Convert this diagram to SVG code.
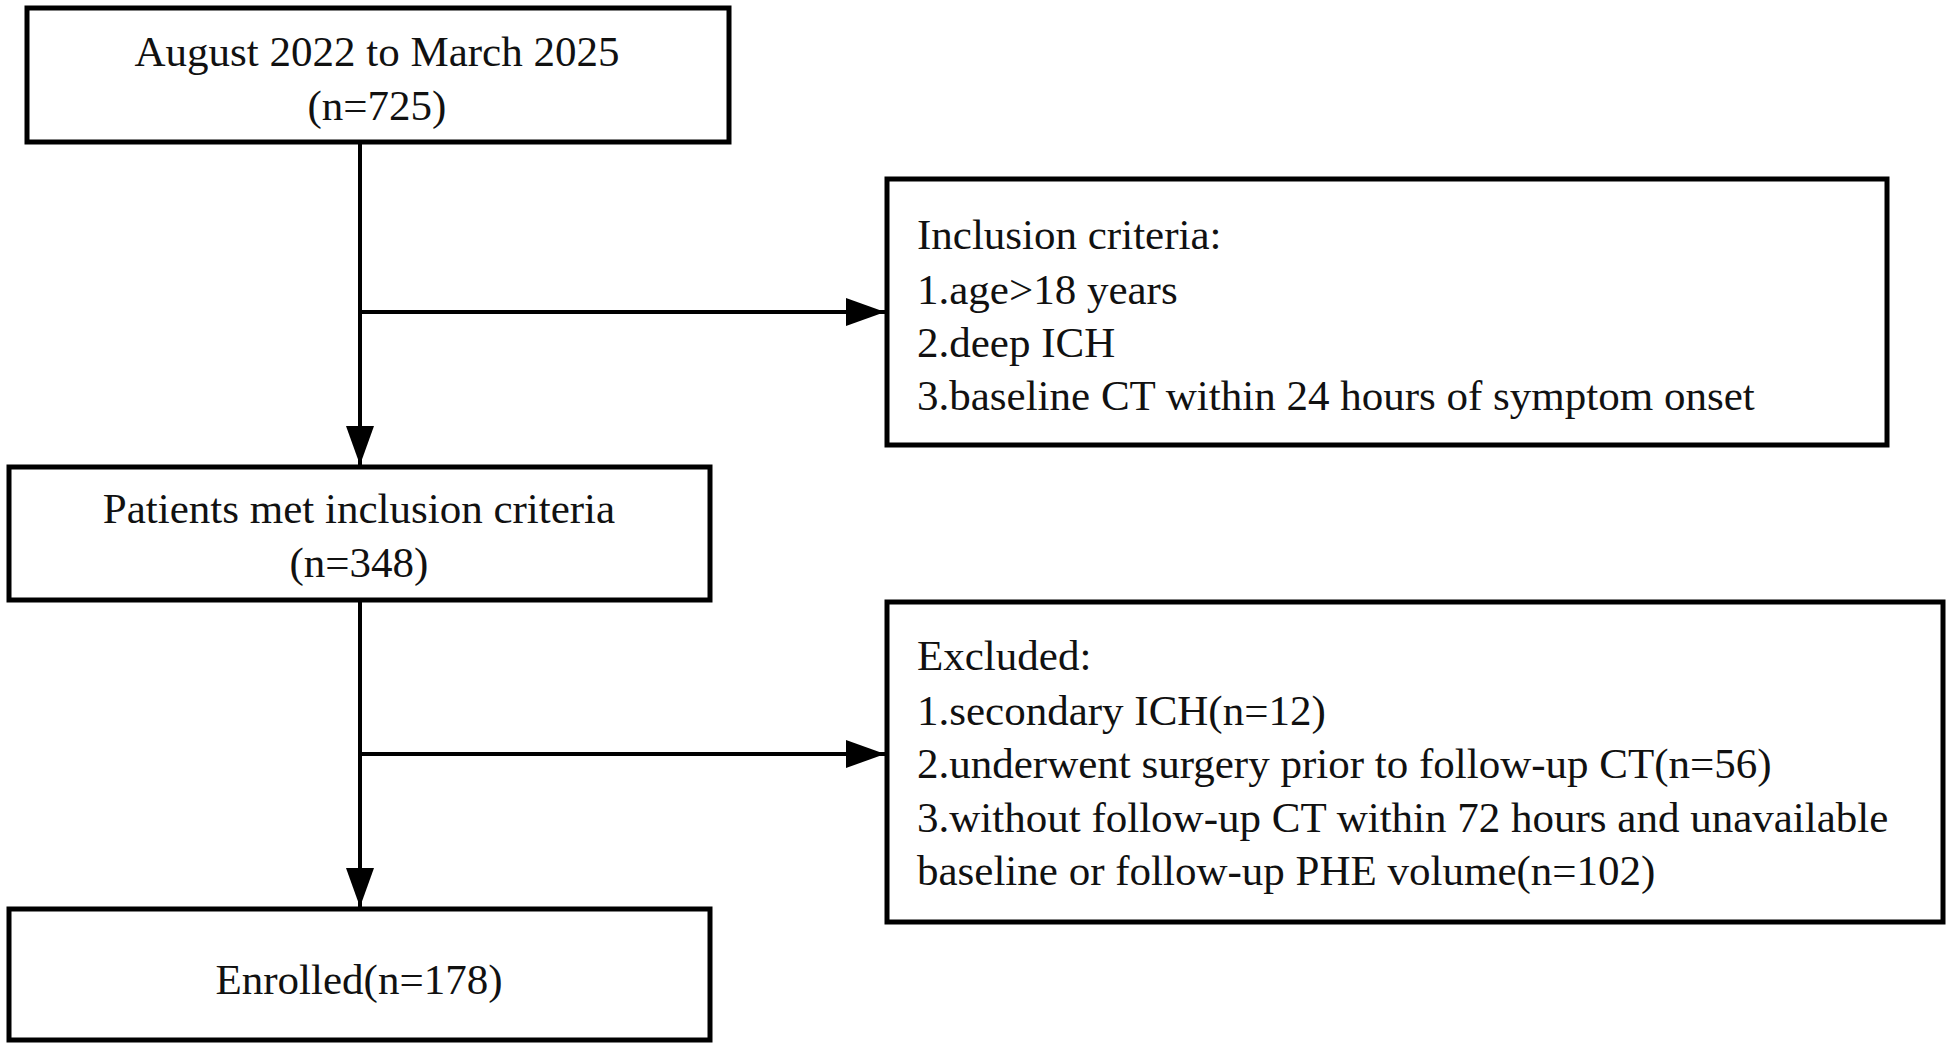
<svg xmlns="http://www.w3.org/2000/svg" width="1960" height="1050" viewBox="0 0 1960 1050">
  <style>
    .box { fill: #ffffff; stroke: #000000; stroke-width: 5; }
    .conn { fill: none; stroke: #000000; stroke-width: 4; }
    text { font-family: "Liberation Serif", "Times New Roman", serif; font-size: 43px; fill: #111111; }
    .c { text-anchor: middle; }
  </style>
  <defs>
    <marker id="arrow" markerUnits="userSpaceOnUse" markerWidth="40" markerHeight="30" refX="39" refY="14" orient="auto">
      <polygon points="0,0 39,14 0,28" fill="#000000"/>
    </marker>
  </defs>
  <rect width="1960" height="1050" fill="#ffffff"/>

  <g id="connectors">
    <line class="conn" x1="360" y1="142" x2="360" y2="465" marker-end="url(#arrow)"/>
    <line class="conn" x1="360" y1="312" x2="885" y2="312" marker-end="url(#arrow)"/>
    <line class="conn" x1="360" y1="600" x2="360" y2="907" marker-end="url(#arrow)"/>
    <line class="conn" x1="362" y1="754" x2="885" y2="754" marker-end="url(#arrow)"/>
  </g>

  <g id="node-start">
    <rect class="box" x="27" y="8" width="702" height="134"/>
    <text class="c" x="377" y="66">August 2022 to March 2025</text>
    <text class="c" x="377" y="120">(n=725)</text>
  </g>

  <g id="node-inclusion">
    <rect class="box" x="887" y="179" width="1000" height="266"/>
    <text x="917" y="249">Inclusion criteria:</text>
    <text x="917" y="304">1.age&gt;18 years</text>
    <text x="917" y="357">2.deep ICH</text>
    <text x="917" y="410">3.baseline CT within 24 hours of symptom onset</text>
  </g>

  <g id="node-met">
    <rect class="box" x="9" y="467" width="701" height="133"/>
    <text class="c" x="359" y="523">Patients met inclusion criteria</text>
    <text class="c" x="359" y="577">(n=348)</text>
  </g>

  <g id="node-excluded">
    <rect class="box" x="887" y="602" width="1056" height="320"/>
    <text x="917" y="670">Excluded:</text>
    <text x="917" y="725">1.secondary ICH(n=12)</text>
    <text x="917" y="778">2.underwent surgery prior to follow-up CT(n=56)</text>
    <text x="917" y="832">3.without follow-up CT within 72 hours and unavailable</text>
    <text x="917" y="885">baseline or follow-up PHE volume(n=102)</text>
  </g>

  <g id="node-enrolled">
    <rect class="box" x="9" y="909" width="701" height="131"/>
    <text class="c" x="359" y="994">Enrolled(n=178)</text>
  </g>
</svg>
